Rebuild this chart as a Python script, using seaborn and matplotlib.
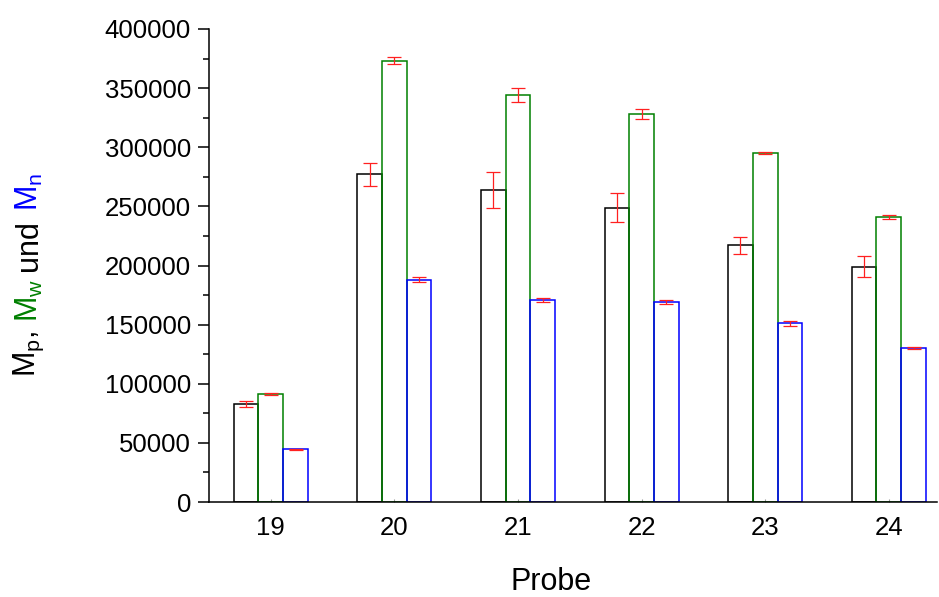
import matplotlib
matplotlib.use("Agg")
import matplotlib.pyplot as plt
from matplotlib.ticker import MultipleLocator
import seaborn as sns
import pandas as pd

# Molmassen je Probe (Peak-, Gewichts- und Zahlenmittel) mit Standardabweichung
probes = ["19", "20", "21", "22", "23", "24"]
mp = [83000, 277000, 264000, 249000, 217000, 199000]
mp_err = [2600, 10000, 15000, 12000, 7000, 9000]
mw = [91000, 373000, 344000, 328000, 295000, 241000]
mw_err = [800, 3000, 5800, 4500, 700, 1500]
mn = [44500, 188000, 171000, 169000, 151000, 130000]
mn_err = [700, 2300, 1800, 1800, 2000, 1000]

series = ["Mp", "Mw", "Mn"]
colors = ["#000000", "#008000", "#0000ff"]

df = pd.DataFrame({
    "Probe": probes * 3,
    "Serie": [s for s in series for _ in probes],
    "Wert": mp + mw + mn,
})
errors = [mp_err, mw_err, mn_err]
values = [mp, mw, mn]

sns.set_theme(style="ticks")
plt.rcParams["font.family"] = ["Liberation Sans", "DejaVu Sans"]
plt.rcParams["mathtext.default"] = "regular"
for key in ("text.color", "axes.labelcolor", "xtick.color", "ytick.color",
            "axes.edgecolor"):
    plt.rcParams[key] = "black"

W, H = 939, 597
fig = plt.figure(figsize=(W / 100, H / 100), dpi=100)
ax = fig.add_axes([209 / W, (H - 502) / H, (937 - 209) / W, (502 - 29) / H])

sns.barplot(data=df, x="Probe", y="Wert", hue="Serie", order=probes,
            hue_order=series, palette=colors, fill=False, width=0.6,
            gap=0, linewidth=1.1, errorbar=None, legend=False, ax=ax)

# Fehlerbalken an den Balkenmitten
bar_containers = list(ax.containers)
for j, cont in enumerate(bar_containers):
    xs = [p.get_x() + p.get_width() / 2 for p in cont.patches]
    ax.errorbar(xs, values[j], yerr=errors[j], fmt="none", ecolor="#ff2020",
                elinewidth=0.9, capsize=5, capthick=0.9, zorder=5)

ax.set_xlim(-0.5, 5.39)
ax.set_ylim(0, 400000)
ax.yaxis.set_major_locator(MultipleLocator(50000))
ax.yaxis.set_minor_locator(MultipleLocator(25000))
sns.despine(ax=ax)
for s in ("left", "bottom"):
    ax.spines[s].set_linewidth(1.1)
    ax.spines[s].set_color("black")

ax.tick_params(axis="y", which="major", direction="out", length=8, width=1.1,
               labelsize=18.5, pad=5, color="black", labelcolor="black")
ax.tick_params(axis="y", which="minor", direction="out", length=4.5, width=1.1,
               color="black")
ax.tick_params(axis="x", which="major", direction="in", length=2, width=0.8,
               labelsize=18.5, pad=10, color="#999999", labelcolor="black")

ax.set_xlabel("Probe", fontsize=22, color="black", va="baseline")
ax.xaxis.set_label_coords((551 - 209) / (937 - 209), (502 - 590) / 473)
ax.set_ylabel("")

# Mehrfarbige Achsenbeschriftung der y-Achse, Stück für Stück von unten nach oben
space = 8.5
pieces = [("M$_p$,", "black", space), ("M$_w$", "#008000", space),
          ("und", "black", space), ("M$_n$", "#0000ff", 0)]
renderer = fig.canvas.get_renderer()
texts = []
lengths = []
for s, c, gap in pieces:
    t = fig.text(0, 0, s, rotation=90, color=c, fontsize=22,
                 ha="center", va="bottom", transform=None)
    lengths.append(t.get_window_extent(renderer).height + gap)
    texts.append(t)
total = sum(lengths)
y0 = (H - 275) - total / 2
x0 = 29
for t, L in zip(texts, lengths):
    t.set_position((x0, y0))
    y0 += L

fig.savefig("out.png", dpi=100)
